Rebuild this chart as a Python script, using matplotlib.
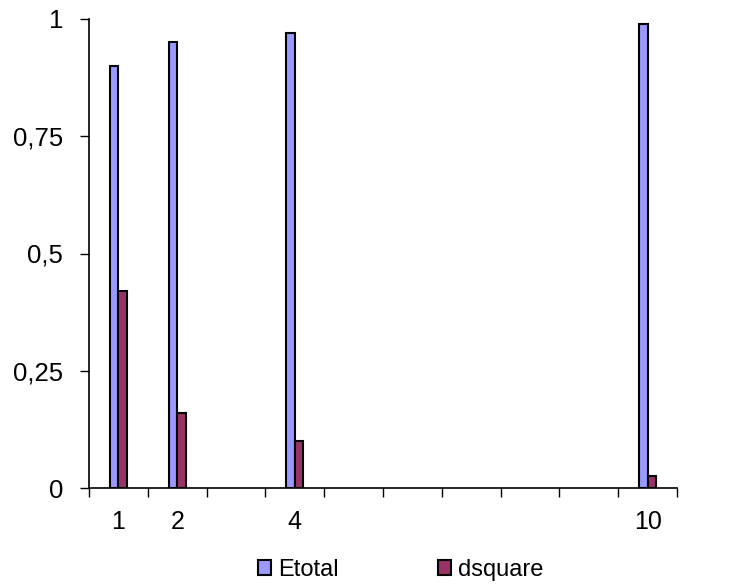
import matplotlib
matplotlib.use("Agg")
import matplotlib.pyplot as plt
import numpy as np
from matplotlib.patches import Patch

categories = ["1", "2", "", "4", "", "", "", "", "", "10"]
etotal = [0.90, 0.95, None, 0.97, None, None, None, None, None, 0.99]
dsquare = [0.42, 0.16, None, 0.10, None, None, None, None, None, 0.025]
yticks = [0, 0.25, 0.5, 0.75, 1]
ytick_labels = ["0", "0,25", "0,5", "0,75", "1"]

c_e = "#9999FF"
c_d = "#993366"

plt.rcParams['font.family'] = ['Liberation Sans', 'DejaVu Sans']

fig = plt.figure(figsize=(7.3, 5.88), dpi=100)
ax = fig.add_axes([89/730, 100/588, 588/730, 469/588])

x = np.arange(len(categories))
w = 0.145
xe = [xi - w/2 for xi, v in zip(x, etotal) if v is not None]
ve = [v for v in etotal if v is not None]
xd = [xi + w/2 for xi, v in zip(x, dsquare) if v is not None]
vd = [v for v in dsquare if v is not None]
ax.bar(xe, ve, width=w, color=c_e, edgecolor="black", linewidth=1.5, zorder=3)
ax.bar(xd, vd, width=w, color=c_d, edgecolor="black", linewidth=1.5, zorder=3)

ax.set_xlim(-0.5, len(categories) - 0.5)
ax.set_ylim(0, 1)
ax.set_yticks(yticks)
ax.set_yticklabels(ytick_labels)
ax.tick_params(axis='y', direction='out', length=6.5, width=1, pad=12, labelsize=18.5)

ax.set_xticks(np.arange(-0.5, len(categories)), minor=False)
ax.set_xticklabels([])
ax.set_xticks(x, minor=True)
ax.set_xticklabels(categories, minor=True)
ax.tick_params(axis='x', which='major', direction='out', length=6.5, width=1)
ax.tick_params(axis='x', which='minor', length=0, pad=16, labelsize=18)

for s in ['top', 'right']:
    ax.spines[s].set_visible(False)
for s in ['left', 'bottom']:
    ax.spines[s].set_linewidth(1.2)

handles = [Patch(facecolor=c_e, edgecolor='black', linewidth=1.5),
           Patch(facecolor=c_d, edgecolor='black', linewidth=1.5)]
fig.legend(handles, ["Etotal", "dsquare"], loc='center', bbox_to_anchor=(0.549, 0.031),
           ncol=2, frameon=False, fontsize=17, handlelength=0.55, handleheight=0.55,
           handletextpad=0.3, columnspacing=4.2)

fig.savefig("out.png", dpi=100)
